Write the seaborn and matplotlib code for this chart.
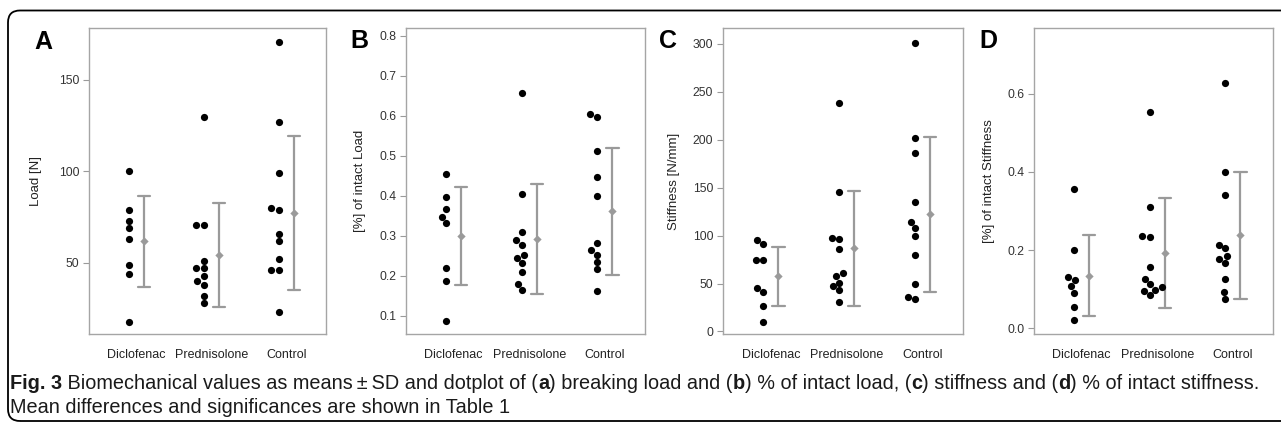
import numpy as np
import pandas as pd
import seaborn as sns
import matplotlib.pyplot as plt
from matplotlib.patches import FancyBboxPatch
from matplotlib.transforms import IdentityTransform
from matplotlib.text import Annotation
import warnings
warnings.filterwarnings('ignore')

# Data

groups = ['Diclofenac', 'Prednisolone', 'Control']

# A  breaking load [N]
load_dic = [100, 79, 73, 69, 63, 49, 44, 18]
load_pre = [130, 71, 71, 51, 47, 47, 43, 40, 38, 32, 28]
load_con = [171, 127, 99, 80, 79, 66, 62, 52, 46, 46, 23]

# B  fraction of intact load
pload_dic = [0.455, 0.397, 0.367, 0.347, 0.332, 0.221, 0.187, 0.087]
pload_pre = [0.657, 0.405, 0.309, 0.290, 0.278, 0.252, 0.246, 0.232, 0.211, 0.181, 0.165]
pload_con = [0.604, 0.597, 0.512, 0.448, 0.400, 0.283, 0.264, 0.253, 0.235, 0.217, 0.163]

# C  stiffness [N/mm]
stiff_dic = [95, 91, 75, 75, 45, 41, 27, 10]
stiff_pre = [238, 146, 98, 96, 86, 61, 58, 51, 47, 43, 31]
stiff_con = [301, 202, 186, 135, 114, 108, 100, 80, 50, 36, 34]

# D  fraction of intact stiffness
pstiff_dic = [0.355, 0.200, 0.130, 0.123, 0.107, 0.090, 0.055, 0.020]
pstiff_pre = [0.553, 0.311, 0.235, 0.233, 0.156, 0.127, 0.113, 0.105, 0.098, 0.096, 0.085]
pstiff_con = [0.627, 0.400, 0.342, 0.213, 0.205, 0.186, 0.178, 0.168, 0.125, 0.093, 0.075]

W, H = 1281, 428

panels = [
    dict(letter='A', ylabel='Load [N]', data=[load_dic, load_pre, load_con],
         ylim=(11.2, 178.4), yticks=[50, 100, 150], fmt='{:.0f}',
         px=(89, 326), lab=-0.2, let=(43, 42)),
    dict(letter='B', ylabel='[%] of intact Load', data=[pload_dic, pload_pre, pload_con],
         ylim=(0.055, 0.82), yticks=[0.1, 0.2, 0.3, 0.4, 0.5, 0.6, 0.7, 0.8], fmt='{:.1f}',
         px=(406, 645), lab=-0.167, let=(359, 41)),
    dict(letter='C', ylabel='Stiffness [N/mm]', data=[stiff_dic, stiff_pre, stiff_con],
         ylim=(-2.7, 316.7), yticks=[0, 50, 100, 150, 200, 250, 300], fmt='{:.0f}',
         px=(723, 963), lab=-0.18, let=(668, 41)),
    dict(letter='D', ylabel='[%] of intact Stiffness', data=[pstiff_dic, pstiff_pre, pstiff_con],
         ylim=(-0.0146, 0.768), yticks=[0.0, 0.2, 0.4, 0.6], fmt='{:.1f}',
         px=(1034, 1273), lab=-0.162, let=(988, 41)),
]

sns.set_theme(style='white')
plt.rcParams['font.family'] = ['Liberation Sans', 'DejaVu Sans']

fig = plt.figure(figsize=(W / 100, H / 100), dpi=100)

top, bottom = 28, 334
grey = '#9a9a9a'

for p in panels:
    x0, x1 = p['px']
    ax = fig.add_axes([x0 / W, 1 - bottom / H, (x1 - x0) / W, (bottom - top) / H])

    rows = []
    for i, vals in enumerate(p['data']):
        for v in vals:
            rows.append({'pos': i, 'bar_pos': i + 0.2, 'value': v})
    df = pd.DataFrame(rows)

    sns.swarmplot(data=df, x='pos', y='value', native_scale=True, orient='v',
                  color='black', size=5.2, linewidth=0, ax=ax, warn_thresh=1)
    sns.pointplot(data=df, x='bar_pos', y='value', native_scale=True, orient='v',
                  errorbar='sd', color=grey, markers='D', markersize=2.2,
                  linestyles='none', capsize=0.16, err_kws={'linewidth': 1.6}, ax=ax)

    ax.set_xlim(-0.53, 2.63)
    ax.set_ylim(*p['ylim'])
    ax.set_xticks([0.1, 1.1, 2.1])
    ax.set_xticklabels(groups)
    ax.set_yticks(p['yticks'])
    ax.set_yticklabels([p['fmt'].format(t) for t in p['yticks']])
    ax.tick_params(axis='x', length=0, pad=11, labelsize=9, labelcolor='#222222')
    ax.tick_params(axis='y', left=True, length=4, width=0.8, color=grey,
                   pad=3, labelsize=8.7, labelcolor='#333333')
    ax.set_xlabel('')
    ax.set_ylabel(p['ylabel'], fontsize=9.5, color='#222222')
    ax.yaxis.set_label_coords(p['lab'], 0.5)
    for s in ax.spines.values():
        s.set_color('#a5a5a5')
        s.set_linewidth(1.0)

    fig.text(p['let'][0] / W, 1 - p['let'][1] / H, p['letter'], fontsize=18,
             fontweight='bold', ha='center', va='center', color='black')

# rounded frame around the whole figure
frame = FancyBboxPatch((8, H - 421), W + 20, 410.5,
                       boxstyle='round,pad=0,rounding_size=12',
                       transform=IdentityTransform(), facecolor='none',
                       edgecolor='black', linewidth=1.3)
fig.patches.append(frame)

# caption with mixed bold/regular pieces, chained one after another
cap_font = ['Liberation Sans', 'DejaVu Sans']
cap_size = 14.3
line1 = [('Fig. 3', 'bold'), (' Biomechanical values as means\u2009\u00b1\u2009SD and dotplot of (', 'normal'),
         ('a', 'bold'), (') breaking load and (', 'normal'), ('b', 'bold'),
         (') % of intact load, (', 'normal'), ('c', 'bold'), (') stiffness and (', 'normal'),
         ('d', 'bold'), (') % of intact stiffness.', 'normal')]
line2 = [('Mean differences and significances are shown in Table 1', 'normal')]

for parts, yb in [(line1, 393), (line2, 417)]:
    prev = fig.text(10 / W, 1 - yb / H, parts[0][0], fontsize=cap_size,
                    fontweight=parts[0][1], family=cap_font, va='bottom',
                    ha='left', color='#1a1a1a')
    for txt, wt in parts[1:]:
        prev = fig.add_artist(Annotation(txt, xy=(1, 0), xycoords=prev,
                                         va='bottom', ha='left', fontsize=cap_size,
                                         fontweight=wt, family=cap_font,
                                         color='#1a1a1a'))

plt.savefig('out.png', dpi=100)
